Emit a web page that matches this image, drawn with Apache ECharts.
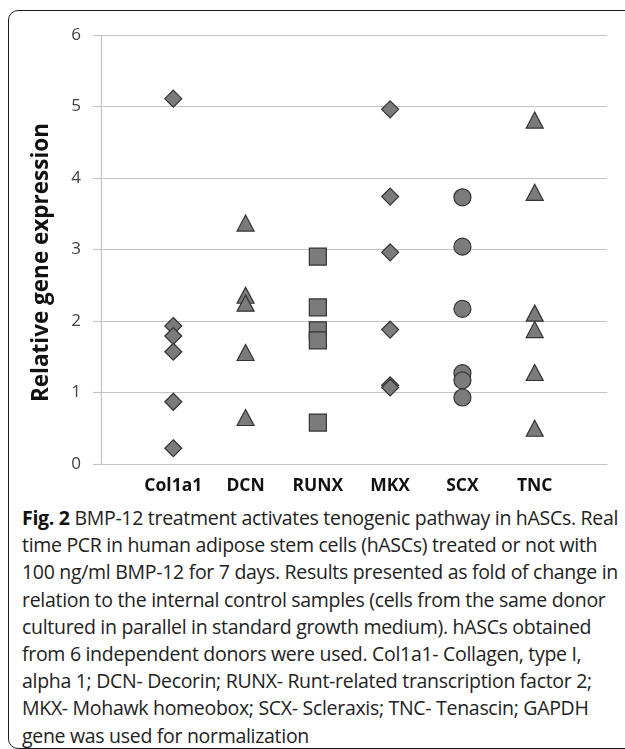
<!DOCTYPE html>
<html>
<head>
<meta charset="utf-8">
<script src="https://cdn.jsdelivr.net/npm/echarts@6/dist/echarts.min.js"></script>
<style>
  html, body { margin: 0; padding: 0; background: #fff; overflow: hidden; }
  body { width: 625px; height: 749px; position: relative; }
  .frame {
    position: absolute; left: 8px; top: 10px; width: 700px; height: 739px;
    border: 1.5px solid #1a1a1a; border-radius: 10px; box-sizing: border-box;
  }
  #chart { position: absolute; left: 0; top: 0; width: 625px; height: 500px; }
  .caption {
    position: absolute; left: 22px; top: 504px; width: 603px;
    font-family: "Open Sans", "Noto Sans", sans-serif; font-size: 19.5px;
    line-height: 27.2px; color: #222; white-space: pre; letter-spacing: -0.3px;
  }
  .caption b { font-weight: 700; color: #111; }
</style>
</head>
<body>
<div class="frame"></div>
<div id="chart"></div>
<div class="caption"><b>Fig. 2</b> BMP-12 treatment activates tenogenic pathway in hASCs. Real
time PCR in human adipose stem cells (hASCs) treated or not with
100 ng/ml BMP-12 for 7 days. Results presented as fold of change in
relation to the internal control samples (cells from the same donor
cultured in parallel in standard growth medium). hASCs obtained
from 6 independent donors were used. Col1a1- Collagen, type I,
alpha 1; DCN- Decorin; RUNX- Runt-related transcription factor 2;
MKX- Mohawk homeobox; SCX- Scleraxis; TNC- Tenascin; GAPDH
gene was used for normalization</div>
<script>
const categories = ["Col1a1", "DCN", "RUNX", "MKX", "SCX", "TNC"];
const yTicks = [0, 1, 2, 3, 4, 5, 6];

// 各基因的相对表达值（每个供体一个点）
const col1a1 = [5.11, 1.93, 1.79, 1.57, 0.87, 0.22];
const dcn = [3.37, 2.36, 2.25, 1.56, 0.65];
const runx = [2.9, 2.19, 1.87, 1.73, 0.58];
const mkx = [4.96, 3.74, 2.96, 1.88, 1.1, 1.07];
const scx = [3.73, 3.04, 2.17, 1.27, 1.17, 0.93];
const tnc = [4.81, 3.8, 2.11, 1.88, 1.28, 0.5];

const groups = [col1a1, dcn, runx, mkx, scx, tnc];
const symbols = ["diamond", "triangle", "rect", "diamond", "circle", "triangle"];
const sizes = [17, [17, 16], 17, 17, 17, [17, 16]];

const myChart = echarts.init(document.getElementById("chart"));

myChart.setOption({
  animation: false,
  grid: {
    left: 101,
    right: 18,
    top: 35,
    bottom: 36,
  },
  xAxis: {
    type: "value",
    min: 0,
    max: 7,
    interval: 1,
    axisLine: { show: true, lineStyle: { color: "#c4c4c4", width: 1.2 } },
    axisTick: { show: false },
    splitLine: { show: false },
    axisLabel: {
      color: "#111",
      fontSize: 17.5,
      fontWeight: "bold",
      fontFamily: "Open Sans",
      margin: 13,
      formatter: (v) => categories[v - 1] || "",
    },
  },
  yAxis: {
    type: "value",
    min: yTicks[0],
    max: yTicks[yTicks.length - 1],
    interval: 1,
    name: "Relative gene expression",
    nameLocation: "middle",
    nameGap: 48,
    nameTextStyle: {
      color: "#111",
      fontSize: 22.5,
      fontWeight: "bold",
      fontFamily: "Open Sans",
      padding: [0, 26, 0, 0],
    },
    axisLine: { show: true, lineStyle: { color: "#c4c4c4", width: 1.2 } },
    axisTick: { show: true, length: 8, lineStyle: { color: "#c4c4c4", width: 1.2 } },
    splitLine: { show: true, lineStyle: { color: "#c4c4c4", width: 1.2 } },
    axisLabel: {
      color: "#404040",
      fontSize: 17,
      fontFamily: "Open Sans",
      margin: 20,
    },
  },
  series: groups.map((vals, i) => ({
    name: categories[i],
    type: "scatter",
    symbol: symbols[i],
    symbolSize: sizes[i],
    itemStyle: {
      color: "#7b7b7b",
      borderColor: "#333",
      borderWidth: 1.2,
      opacity: 1,
    },
    data: vals.map((v) => [i + 1, v]),
  })),
});
</script>
</body>
</html>
